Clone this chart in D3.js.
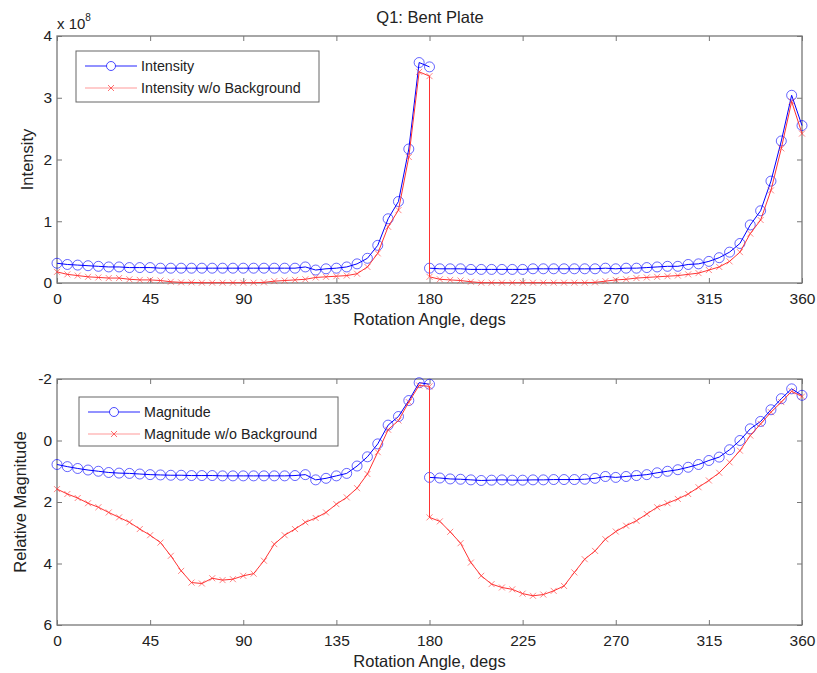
<!DOCTYPE html>
<html><head><meta charset="utf-8">
<script src="https://cdn.jsdelivr.net/npm/d3@7"></script>
<style>body{margin:0;background:#fff}svg{display:block}text{font-family:"Liberation Sans",Arial,sans-serif;fill:#222}</style>
</head><body><svg id="c" width="817" height="673"></svg>
<script>
// Angles: 0..180 step 5, then 180..360 step 5 (jump at 180)
const anglesA = d3.range(0, 181, 5);
const anglesB = d3.range(180, 361, 5);
const angles = anglesA.concat(anglesB);

// Intensity (x 1e8)
const intensity = [0.32,0.30,0.29,0.28,0.27,0.26,0.26,0.25,0.25,0.25,0.24,0.24,0.24,0.24,0.24,0.24,0.24,0.24,0.24,0.24,0.24,0.24,0.24,0.24,0.26,0.21,0.23,0.24,0.26,0.31,0.40,0.61,1.04,1.32,2.17,3.57,3.50,
 0.24,0.23,0.23,0.23,0.22,0.22,0.22,0.22,0.22,0.22,0.23,0.23,0.23,0.23,0.23,0.23,0.23,0.24,0.23,0.24,0.24,0.25,0.26,0.27,0.27,0.30,0.31,0.35,0.41,0.50,0.64,0.94,1.17,1.65,2.30,3.04,2.55];
const intensityNoBg = [0.18,0.14,0.12,0.10,0.09,0.08,0.08,0.06,0.05,0.05,0.04,0.02,0.01,0.01,0.005,0.005,0.005,0.005,0.005,0.005,0.01,0.03,0.04,0.05,0.06,0.09,0.10,0.11,0.12,0.15,0.26,0.48,0.91,1.18,2.04,3.42,3.35,
 0.10,0.06,0.05,0.04,0.02,0.005,0.005,0.005,0.005,0.005,0.005,0.005,0.005,0.005,0.005,0.005,0.01,0.03,0.05,0.06,0.08,0.09,0.10,0.11,0.12,0.14,0.16,0.21,0.26,0.35,0.50,0.80,1.02,1.50,2.18,2.94,2.42];

// Relative magnitude
const magnitude = [0.78,0.85,0.91,0.96,1.00,1.04,1.06,1.07,1.09,1.11,1.12,1.13,1.13,1.14,1.14,1.14,1.15,1.15,1.15,1.15,1.15,1.15,1.15,1.14,1.11,1.28,1.23,1.15,1.07,0.83,0.53,0.11,-0.50,-0.78,-1.30,-1.88,-1.83,
 1.20,1.22,1.25,1.26,1.28,1.30,1.29,1.28,1.29,1.29,1.28,1.28,1.27,1.27,1.27,1.26,1.23,1.17,1.20,1.17,1.14,1.11,1.05,1.00,0.95,0.87,0.78,0.65,0.54,0.30,0.00,-0.38,-0.62,-1.00,-1.36,-1.68,-1.47];
const magnitudeNoBg = [1.58,1.74,1.87,2.04,2.17,2.34,2.50,2.66,2.88,3.08,3.32,3.75,4.24,4.62,4.65,4.48,4.54,4.51,4.40,4.33,3.91,3.37,3.08,2.88,2.66,2.52,2.34,2.07,1.85,1.55,1.09,0.38,-0.35,-0.65,-1.25,-1.79,-1.76,
 2.50,2.63,2.97,3.34,3.97,4.40,4.67,4.78,4.84,4.98,5.05,5.01,4.89,4.73,4.29,3.86,3.59,3.21,2.96,2.77,2.61,2.39,2.17,2.04,1.90,1.74,1.52,1.30,1.05,0.71,0.33,-0.16,-0.54,-0.92,-1.25,-1.60,-1.43];

const xTicks = [0,45,90,135,180,225,270,315,360];
const yTicksTop = [0,1,2,3,4];
const yTicksBot = [-2,0,2,4,6];

const svg = d3.select("#c");
const X0 = 57, X1 = 802;
const blue = "#0000ff", red = "#ff3333";
const fmt = d => String(d); // plain hyphen minus like the reference
const nA = anglesA.length;

function panel(cfg) {
  const x = d3.scaleLinear().domain([0,360]).range([X0, X1]);
  const y = d3.scaleLinear().domain(cfg.domain).range([cfg.y1, cfg.y0]);
  const g = svg.append("g");
  const ax = d3.axisBottom(x).tickValues(xTicks).tickSize(-5).tickPadding(10).tickFormat(fmt);
  const ay = d3.axisLeft(y).tickValues(cfg.yTicks).tickSize(-5).tickPadding(5).tickFormat(fmt);
  const axT = d3.axisTop(x).tickValues(xTicks).tickSize(-5).tickFormat("");
  const ayR = d3.axisRight(y).tickValues(cfg.yTicks).tickSize(-5).tickFormat("");
  const style = s => s.call(a => { a.select(".domain").remove(); a.selectAll("line").attr("stroke","#777"); a.selectAll("text").attr("fill","#222").style("font-size","15.5px").style("font-family","Liberation Sans, Arial, sans-serif"); });
  g.append("g").attr("transform",`translate(0,${cfg.y1})`).call(ax).call(style);
  g.append("g").attr("transform",`translate(${X0},0)`).call(ay).call(style);
  g.append("g").attr("transform",`translate(0,${cfg.y0})`).call(axT).call(style);
  g.append("g").attr("transform",`translate(${X1},0)`).call(ayR).call(style);
  g.append("rect").attr("x",X0).attr("y",cfg.y0).attr("width",X1-X0).attr("height",cfg.y1-cfg.y0)
    .attr("fill","none").attr("stroke","#777").attr("stroke-width",1.3);

  const pts = vals => vals.map((v,i) => [x(angles[i]), y(v)]);
  const line = d3.line();
  const drawSeries = (vals, color, marker, split) => {
    const p = pts(vals);
    const parts = split ? [p.slice(0, nA), p.slice(nA)] : [p];
    parts.forEach(pp => g.append("path").attr("d", line(pp)).attr("fill","none").attr("stroke",color).attr("stroke-width",1));
    p.forEach(([cx, cy]) => {
      if (marker === "o") {
        g.append("circle").attr("cx",cx).attr("cy",cy).attr("r",5).attr("fill","none").attr("stroke",color).attr("stroke-opacity",0.6).attr("stroke-width",1);
      } else {
        const s = 3;
        g.append("path").attr("d",`M${cx-s},${cy-s}L${cx+s},${cy+s}M${cx-s},${cy+s}L${cx+s},${cy-s}`).attr("stroke",color).attr("stroke-opacity",0.6).attr("stroke-width",1);
      }
    });
  };
  drawSeries(cfg.s1, blue, "o", true);
  drawSeries(cfg.s2, red, "x", false);

  svg.append("text").attr("x",(X0+X1)/2).attr("y",cfg.y1+42).attr("text-anchor","middle").style("font-size","16.5px").text("Rotation Angle, degs");
  svg.append("text").attr("transform",`translate(${cfg.ylabX},${(cfg.y0+cfg.y1)/2}) rotate(-90)`).attr("text-anchor","middle").style("font-size","16.5px").text(cfg.ylabel);

  const L = cfg.legend;
  svg.append("rect").attr("x",L.x).attr("y",L.y).attr("width",L.w).attr("height",L.h).attr("fill","#fff").attr("stroke","#666").attr("stroke-width",1);
  const rows = [[cfg.names[0], blue, "o"], [cfg.names[1], red, "x"]];
  rows.forEach((r,k) => {
    const ry = L.y + 15 + k*22;
    const lx0 = L.x + 9, lx1 = L.x + 61, mx = (lx0+lx1)/2;
    svg.append("line").attr("x1",lx0).attr("x2",lx1).attr("y1",ry).attr("y2",ry).attr("stroke",r[1]).attr("stroke-opacity",r[2]==="o"?0.85:0.5).attr("stroke-width",1.2);
    if (r[2]==="o") svg.append("circle").attr("cx",mx).attr("cy",ry).attr("r",4.5).attr("fill","#fff").attr("stroke",r[1]).attr("stroke-opacity",0.7);
    else svg.append("path").attr("d",`M${mx-3},${ry-3}L${mx+3},${ry+3}M${mx-3},${ry+3}L${mx+3},${ry-3}`).attr("stroke",r[1]).attr("stroke-opacity",0.7);
    svg.append("text").attr("x",L.x+65).attr("y",ry+5).style("font-size","14.3px").text(r[0]);
  });
}

panel({domain:[0,4], y0:36, y1:283, yTicks:yTicksTop, s1:intensity, s2:intensityNoBg,
  ylabel:"Intensity", ylabX:33, names:["Intensity","Intensity w/o Background"],
  legend:{x:76,y:51,w:243,h:51}});
panel({domain:[6,-2], y0:379, y1:625, yTicks:yTicksBot, s1:magnitude, s2:magnitudeNoBg,
  ylabel:"Relative Magnitude", ylabX:26, names:["Magnitude","Magnitude w/o Background"],
  legend:{x:79,y:397,w:259,h:49}});

svg.append("text").attr("x",430).attr("y",23).attr("text-anchor","middle").style("font-size","16.5px").text("Q1: Bent Plate");
const sx = svg.append("text").attr("x",57).attr("y",29).style("font-size","15px");
sx.append("tspan").text("x 10");
sx.append("tspan").attr("dy",-8).style("font-size","10px").text("8");
</script></body></html>
